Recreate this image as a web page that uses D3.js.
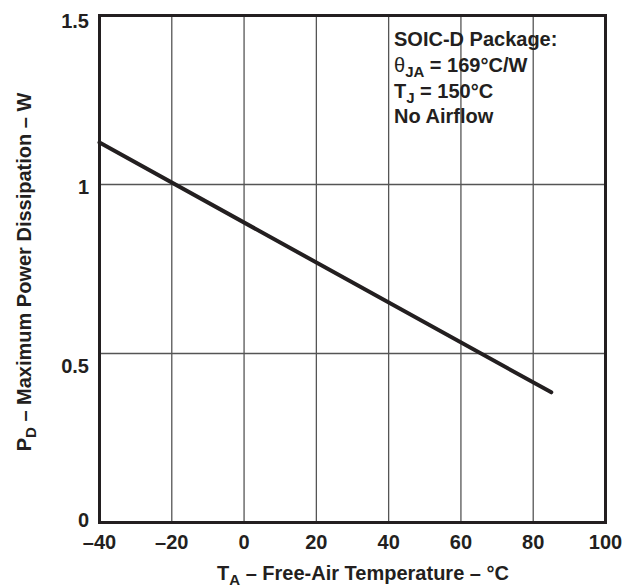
<!DOCTYPE html>
<html lang="en">
<head>
<meta charset="UTF-8">
<title>Power dissipation</title>
<script src="https://cdn.jsdelivr.net/npm/d3@7"></script>
<style>
  body { margin: 0; background: #fff; }
  text { font-family: "Liberation Sans", Arial, sans-serif; font-weight: bold; fill: #231f20; }
</style>
</head>
<body>
<script>
// data
var xTicks = [-40, -20, 0, 20, 40, 60, 80, 100];
var yTicks = [0, 0.5, 1, 1.5];
var yTickLabels = ["0", "0.5", "1", "1.5"];
var temps = [-40, 85];
var power = [1.124, 0.385];
var notes = ["SOIC-D Package:", "θJA = 169°C/W", "TJ = 150°C", "No Airflow"];

var W = 628, H = 587;
var m = {left: 99.5, top: 15.5, right: 605.5, bottom: 522.5};
var fs = 20, sub = 15;

var svg = d3.select("body").append("svg").attr("width", W).attr("height", H);

var x = d3.scaleLinear().domain([-40, 100]).range([m.left, m.right]);
var y = d3.scaleLinear().domain([0, 1.5]).range([m.bottom, m.top]);

// grid
svg.append("g").selectAll("line").data(xTicks.slice(1, -1)).join("line")
    .attr("x1", d => x(d)).attr("x2", d => x(d))
    .attr("y1", m.top).attr("y2", m.bottom)
    .attr("stroke", "#555").attr("stroke-width", 1.3);
svg.append("g").selectAll("line").data(yTicks.slice(1, -1)).join("line")
    .attr("y1", d => y(d)).attr("y2", d => y(d))
    .attr("x1", m.left).attr("x2", m.right)
    .attr("stroke", "#555").attr("stroke-width", 1.3);

// frame
svg.append("rect").attr("x", m.left).attr("y", m.top)
    .attr("width", m.right - m.left).attr("height", m.bottom - m.top)
    .attr("fill", "none").attr("stroke", "#231f20").attr("stroke-width", 3);

// tick labels (the original puts the y labels a bit unevenly)
var yNudge = [4.5, 19, 9.5, 12.5];
svg.append("g").selectAll("text").data(xTicks).join("text")
    .attr("x", d => x(d)).attr("y", 549)
    .attr("text-anchor", "middle").attr("font-size", fs)
    .text(d => d < 0 ? "\u2013" + Math.abs(d) : d);
svg.append("g").selectAll("text").data(yTicks).join("text")
    .attr("x", 89).attr("y", (d, i) => y(d) + yNudge[i])
    .attr("text-anchor", "end").attr("font-size", fs)
    .text((d, i) => yTickLabels[i]);

// curve
var pts = temps.map((t, i) => [t, power[i]]);
svg.append("path").datum(pts)
    .attr("d", d3.line().x(d => x(d[0])).y(d => y(d[1])))
    .attr("fill", "none").attr("stroke", "#231f20").attr("stroke-width", 4)
    .attr("stroke-linecap", "round");

// notes
var nt = svg.append("g").attr("font-size", fs);
nt.append("text").attr("x", 394).attr("y", 46).text(notes[0]);
var t2 = nt.append("text").attr("x", 394).attr("y", 72);
t2.append("tspan").text("θ").attr("font-weight", "normal");
t2.append("tspan").text("JA").attr("font-size", sub).attr("dy", 5);
t2.append("tspan").text(" = 169°C/W").attr("dy", -5);
var t3 = nt.append("text").attr("x", 394).attr("y", 98);
t3.append("tspan").text("T");
t3.append("tspan").text("J").attr("font-size", sub).attr("dy", 5);
t3.append("tspan").text(" = 150°C").attr("dy", -5);
nt.append("text").attr("x", 394).attr("y", 123).text(notes[3]);

// axis titles
var xt = svg.append("text").attr("x", 363).attr("y", 580)
    .attr("text-anchor", "middle").attr("font-size", fs);
xt.append("tspan").text("T");
xt.append("tspan").text("A").attr("font-size", sub).attr("dy", 5);
xt.append("tspan").text(" \u2013 Free-Air Temperature \u2013 °C").attr("dy", -5);

var yt = svg.append("text").attr("transform", "translate(31,272) rotate(-90)")
    .attr("text-anchor", "middle").attr("font-size", fs);
yt.append("tspan").text("P");
yt.append("tspan").text("D").attr("font-size", sub).attr("dy", 5);
yt.append("tspan").text(" \u2013 Maximum Power Dissipation \u2013 W").attr("dy", -5);
</script>
</body>
</html>
